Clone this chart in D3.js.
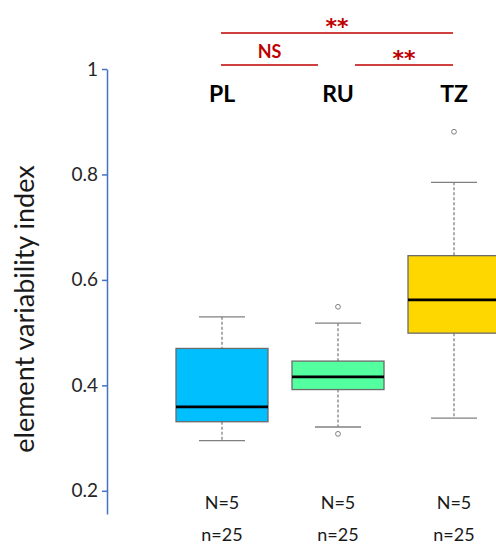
<!DOCTYPE html>
<html>
<head>
<meta charset="utf-8">
<script src="https://cdn.jsdelivr.net/npm/d3@7"></script>
<style>
  body { margin: 0; background: #fff; }
  svg { display: block; font-family: Lato, "Open Sans", sans-serif; }
</style>
</head>
<body>
<svg id="chart" width="496" height="545"></svg>
<script>
// Box plot of element variability index per group, with significance bars on top

var groups = ["PL", "RU", "TZ"];
var colors = ["#00BFFF", "#54FF9F", "#FFD700"];
var whiskerLow = [0.295, 0.321, 0.338];
var q1 = [0.331, 0.392, 0.499];
var median = [0.359, 0.416, 0.562];
var q3 = [0.470, 0.446, 0.646];
var whiskerHigh = [0.530, 0.518, 0.785];
var outliers = [[], [0.549, 0.308], [0.881]];
var bigN = ["N=5", "N=5", "N=5"];
var smallN = ["n=25", "n=25", "n=25"];
var yTicks = [0.2, 0.4, 0.6, 0.8, 1];

// pairwise comparisons: from group, to group, label, level (0 = lower row)
var comparisons = [
    { from: "PL", to: "RU", label: "NS", level: 0 },
    { from: "RU", to: "TZ", label: "**", level: 0 },
    { from: "PL", to: "TZ", label: "**", level: 1 }
];

var svg = d3.select("#chart");

var y = d3.scaleLinear().domain([0.156, 1]).range([514, 69]);
var x = d3.scalePoint().domain(groups).range([222, 454]);
var boxW = 92;

// y axis
var yAxis = d3.axisLeft(y)
    .tickValues(yTicks)
    .tickFormat(d3.format("~g"))
    .tickSize(5)
    .tickSizeOuter(0);

var axisG = svg.append("g")
    .attr("transform", "translate(107,0)")
    .call(yAxis);
axisG.select(".domain").attr("stroke", "#4472C4").attr("stroke-width", 1.5);
axisG.selectAll(".tick line").attr("stroke", "#4472C4").attr("stroke-width", 1.5);
axisG.selectAll(".tick text")
    .attr("x", -9)
    .attr("fill", "#262626")
    .style("font-size", "19px")
    .style("font-family", "Lato, 'Open Sans', sans-serif");

svg.append("text")
    .attr("transform", "translate(34,309) rotate(-90)")
    .attr("text-anchor", "middle")
    .attr("fill", "#1a1a1a")
    .style("font-size", "27px")
    .text("element variability index");

// box data
var boxes = groups.map(function(g, i) {
    return {
        name: g, color: colors[i], lo: whiskerLow[i], q1: q1[i], med: median[i],
        q3: q3[i], hi: whiskerHigh[i], out: outliers[i], N: bigN[i], n: smallN[i]
    };
});

var boxG = svg.selectAll(".box")
    .data(boxes)
    .enter()
    .append("g")
    .attr("class", "box")
    .attr("transform", function(d) { return "translate(" + x(d.name) + ",0)"; });

// whiskers (dashed)
boxG.append("line")
    .attr("x1", 0).attr("x2", 0)
    .attr("y1", function(d) { return y(d.hi); })
    .attr("y2", function(d) { return y(d.q3); })
    .attr("stroke", "#808080").attr("stroke-width", 1.3)
    .attr("stroke-dasharray", "3,2");
boxG.append("line")
    .attr("x1", 0).attr("x2", 0)
    .attr("y1", function(d) { return y(d.q1); })
    .attr("y2", function(d) { return y(d.lo); })
    .attr("stroke", "#808080").attr("stroke-width", 1.3)
    .attr("stroke-dasharray", "3,2");

// whisker caps
["hi", "lo"].forEach(function(k) {
    boxG.append("line")
        .attr("x1", -boxW / 4).attr("x2", boxW / 4)
        .attr("y1", function(d) { return y(d[k]); })
        .attr("y2", function(d) { return y(d[k]); })
        .attr("stroke", "#808080").attr("stroke-width", 1.3);
});

// boxes
boxG.append("rect")
    .attr("x", -boxW / 2)
    .attr("width", boxW)
    .attr("y", function(d) { return y(d.q3); })
    .attr("height", function(d) { return y(d.q1) - y(d.q3); })
    .attr("fill", function(d) { return d.color; })
    .attr("stroke", "#6b6b6b")
    .attr("stroke-width", 1.3);

// medians
boxG.append("line")
    .attr("x1", -boxW / 2).attr("x2", boxW / 2)
    .attr("y1", function(d) { return y(d.med); })
    .attr("y2", function(d) { return y(d.med); })
    .attr("stroke", "#000").attr("stroke-width", 2.8);

// outliers
boxG.selectAll(".outlier")
    .data(function(d) { return d.out; })
    .enter()
    .append("circle")
    .attr("class", "outlier")
    .attr("cx", 0)
    .attr("cy", function(v) { return y(v); })
    .attr("r", 2.4)
    .attr("fill", "#fff")
    .attr("stroke", "#808080")
    .attr("stroke-width", 1);

// group labels above
boxG.append("text")
    .attr("y", 102)
    .attr("text-anchor", "middle")
    .style("font-size", "23px")
    .style("font-weight", "bold")
    .attr("fill", "#000")
    .text(function(d) { return d.name; });

// counts below
boxG.append("text")
    .attr("y", 509)
    .attr("text-anchor", "middle")
    .style("font-size", "18px")
    .attr("fill", "#1a1a1a")
    .text(function(d) { return d.N; });
boxG.append("text")
    .attr("y", 541)
    .attr("text-anchor", "middle")
    .style("font-size", "18px")
    .attr("fill", "#1a1a1a")
    .text(function(d) { return d.n; });

// significance bars
var levelY = [65, 33];
function barStart(d) { return d.level === 0 && d.from === "RU" ? x(d.from) + 17 : x(d.from) - 1; }
function barEnd(d) { return d.level === 0 && d.to === "RU" ? x(d.to) - 20 : x(d.to) - 1; }

var sigG = svg.selectAll(".sig")
    .data(comparisons)
    .enter()
    .append("g")
    .attr("class", "sig");

sigG.append("line")
    .attr("x1", barStart)
    .attr("x2", barEnd)
    .attr("y1", function(d) { return levelY[d.level]; })
    .attr("y2", function(d) { return levelY[d.level]; })
    .attr("stroke", "#C00000")
    .attr("stroke-width", 1.6);

sigG.append("text")
    .attr("x", function(d) { return (barStart(d) + barEnd(d)) / 2; })
    .attr("y", function(d) { return d.label === "NS" ? levelY[d.level] - 7 : levelY[d.level] + 1; })
    .attr("text-anchor", "middle")
    .style("font-size", function(d) { return d.label === "NS" ? "18px" : "22px"; })
    .style("font-weight", "bold")
    .style("font-family", function(d) { return d.label === "NS" ? null : "'DejaVu Sans', sans-serif"; })
    .attr("fill", "#C00000")
    .text(function(d) { return d.label; });
</script>
</body>
</html>
